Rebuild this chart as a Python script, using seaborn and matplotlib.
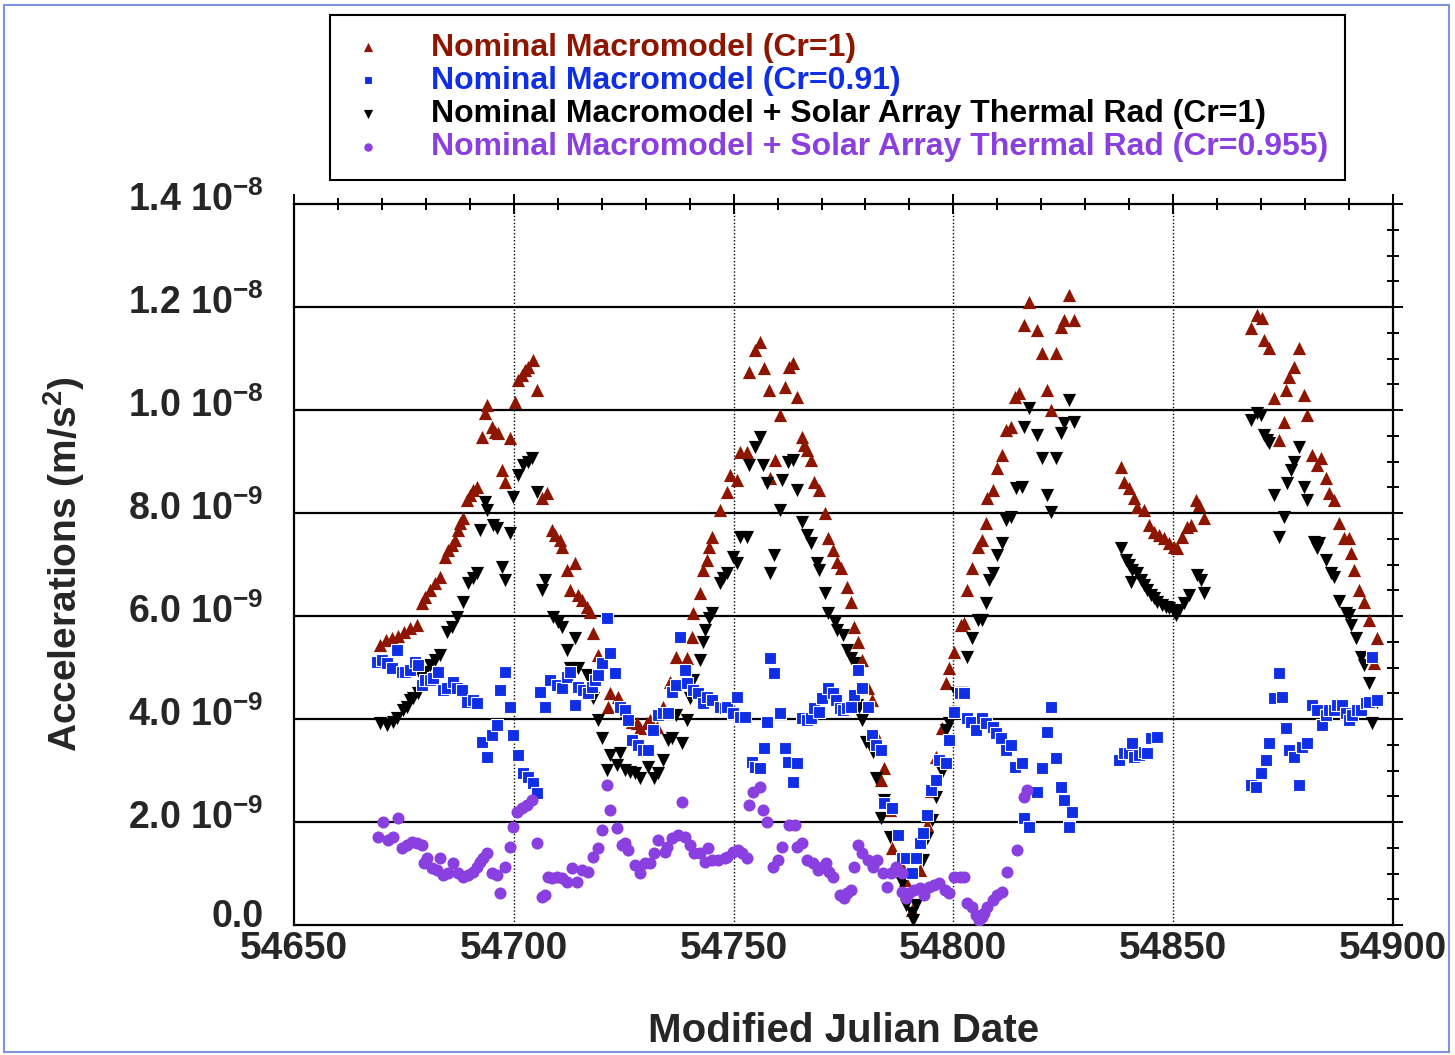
import numpy as np
import pandas as pd
import matplotlib
matplotlib.use("Agg")
import matplotlib.pyplot as plt
import matplotlib.transforms as mtransforms
from matplotlib.patches import Rectangle
from matplotlib.ticker import MultipleLocator
import seaborn as sns

# =============================================================================
# DATA  (acceleration values in units of 1e-9 m/s^2)
# =============================================================================
red_mjd = [
    54669.5, 54670.9, 54672.3, 54673.6, 54675.0, 54676.4, 54678.0, 54679.1, 54679.8, 54680.9,
    54682.0, 54683.2, 54684.3, 54685.0, 54685.9, 54686.6, 54687.3, 54687.7, 54688.4, 54689.3,
    54690.0, 54690.7, 54691.6, 54692.7, 54693.4, 54693.9, 54695.0, 54695.7, 54696.4, 54697.3,
    54698.0, 54699.1, 54700.2, 54700.9, 54701.8, 54702.5, 54703.2, 54704.3, 54705.2, 54706.4,
    54707.5, 54708.6, 54709.3, 54710.5, 54710.9, 54712.0, 54712.7, 54713.9, 54714.5, 54715.5,
    54716.6, 54717.3, 54718.0, 54719.1, 54721.4, 54721.8, 54723.6, 54725.5, 54726.8, 54728.0,
    54728.6, 54730.2, 54730.9, 54732.5, 54733.9, 54735.5, 54737.0, 54739.3, 54740.5, 54740.7,
    54742.3, 54743.0, 54743.9, 54744.5, 54745.2, 54746.8, 54748.4, 54749.1, 54750.7, 54751.4,
    54753.0, 54753.6, 54754.8, 54755.9, 54757.0, 54758.0, 54758.2, 54759.5, 54760.5, 54761.6,
    54762.7, 54763.4, 54764.5, 54765.5, 54766.1, 54766.8, 54767.7, 54768.4, 54769.5, 54770.7,
    54771.4, 54772.5, 54773.6, 54774.5, 54775.7, 54776.8, 54777.5, 54778.2, 54779.3, 54780.5,
    54781.4, 54782.5, 54783.6, 54784.3, 54785.5, 54786.1, 54788.2, 54789.1, 54790.5, 54792.3,
    54793.9, 54795.0, 54796.1, 54797.3, 54798.4, 54799.1, 54800.2, 54801.8, 54802.5, 54803.2,
    54804.3, 54805.5, 54806.6, 54807.5, 54807.7, 54808.9, 54810.0, 54811.1, 54812.0, 54813.2,
    54813.9, 54815.0, 54816.1, 54817.3, 54819.1, 54820.2, 54821.4, 54822.3, 54823.4, 54824.5,
    54825.2, 54826.4, 54827.5, 54838.2, 54838.9, 54840.0, 54841.1, 54841.8, 54843.4, 54844.5,
    54845.7, 54846.8, 54848.0, 54849.1, 54850.2, 54850.9, 54852.0, 54853.2, 54854.1, 54855.2,
    54855.9, 54857.0, 54867.7, 54869.1, 54870.2, 54870.7, 54871.8, 54873.0, 54874.1, 54875.2,
    54875.7, 54876.4, 54877.5, 54878.6, 54879.8, 54880.5, 54881.6, 54882.7, 54883.6, 54884.8,
    54885.5, 54886.6, 54887.7, 54888.9, 54890.0, 54890.5, 54891.1, 54892.3, 54893.4, 54894.5,
    54895.7, 54896.4,
]
red_acc = [
    5.44, 5.53, 5.57, 5.61, 5.69, 5.77, 5.83, 6.25, 6.37, 6.50,
    6.64, 6.76, 7.15, 7.28, 7.38, 7.48, 7.67, 7.81, 7.90, 8.25,
    8.35, 8.45, 8.50, 9.48, 9.94, 10.10, 9.67, 9.57, 9.55, 8.83,
    8.60, 9.46, 10.16, 10.58, 10.68, 10.78, 10.83, 10.97, 10.39, 8.29,
    8.39, 7.67, 7.57, 7.48, 7.34, 6.89, 6.50, 7.03, 6.41, 6.31,
    6.17, 6.08, 5.67, 5.24, 4.23, 4.50, 4.43, 4.15, 3.95, 3.92,
    3.83, 3.92, 3.98, 3.84, 4.23, 4.72, 5.20, 5.18, 5.59, 6.06,
    6.45, 6.89, 7.09, 7.34, 7.53, 8.06, 8.41, 8.74, 8.64, 9.18,
    9.18, 10.74, 11.17, 11.32, 10.82, 10.39, 8.68, 9.03, 9.90, 10.45,
    10.83, 10.91, 10.25, 9.48, 9.32, 9.22, 9.03, 8.60, 8.45, 8.00,
    7.51, 7.28, 7.05, 6.93, 6.56, 6.27, 5.79, 5.50, 5.15, 4.60,
    4.37, 3.69, 2.82, 3.05, 2.23, 1.50, 1.13, 0.87, 0.29, 1.07,
    1.95, 2.60, 3.26, 3.83, 4.70, 4.99, 5.30, 5.83, 5.86, 6.50,
    6.93, 7.34, 7.48, 7.81, 8.29, 8.45, 8.87, 9.13, 9.61, 9.67,
    10.25, 10.33, 11.65, 12.10, 11.55, 11.11, 10.39, 10.00, 11.11, 11.61,
    11.75, 12.23, 11.75, 8.89, 8.60, 8.49, 8.29, 8.12, 8.06, 7.77,
    7.63, 7.57, 7.51, 7.42, 7.34, 7.32, 7.53, 7.73, 7.77, 8.25,
    8.16, 7.90, 11.59, 11.84, 11.79, 11.36, 11.20, 10.23, 9.42, 9.77,
    10.39, 10.64, 10.83, 11.20, 10.29, 9.90, 9.13, 8.93, 9.07, 8.68,
    8.39, 8.25, 7.81, 7.51, 7.51, 7.22, 6.89, 6.50, 6.27, 5.92,
    5.09, 5.57,
]

blue_mjd = [
    54668.9, 54670.0, 54671.1, 54672.3, 54673.4, 54674.5, 54675.2, 54676.4, 54677.5, 54678.2,
    54679.1, 54679.8, 54680.9, 54681.6, 54682.7, 54683.9, 54684.8, 54686.1, 54687.0, 54688.2,
    54689.3, 54690.7, 54691.6, 54692.7, 54693.9, 54695.0, 54696.1, 54696.8, 54698.0, 54699.1,
    54699.8, 54700.9, 54702.0, 54703.2, 54704.3, 54705.2, 54705.9, 54707.0, 54708.2, 54709.8,
    54710.9, 54712.0, 54712.7, 54713.9, 54714.5, 54715.7, 54716.8, 54717.7, 54718.4, 54719.1,
    54720.0, 54721.1, 54721.8, 54723.0, 54724.1, 54725.2, 54725.9, 54727.0, 54728.2, 54729.3,
    54730.5, 54731.6, 54732.7, 54733.9, 54735.0, 54735.9, 54737.0, 54737.7, 54738.9, 54739.5,
    54740.7, 54741.8, 54743.0, 54743.9, 54745.2, 54746.8, 54748.0, 54748.6, 54749.8, 54750.7,
    54751.4, 54752.5, 54754.1, 54754.8, 54755.9, 54757.0, 54757.7, 54758.2, 54759.3, 54760.5,
    54761.6, 54762.3, 54763.4, 54764.5, 54765.5, 54766.6, 54767.7, 54768.4, 54769.5, 54770.2,
    54771.4, 54772.5, 54773.4, 54774.1, 54774.8, 54775.9, 54776.8, 54777.5, 54778.2, 54779.3,
    54780.5, 54781.4, 54782.5, 54783.6, 54784.3, 54786.1, 54787.3, 54788.4, 54789.3, 54790.5,
    54791.6, 54792.3, 54793.0, 54794.1, 54795.0, 54796.1, 54796.8, 54798.4, 54799.1, 54800.2,
    54801.4, 54802.5, 54803.2, 54804.1, 54805.2, 54806.4, 54807.5, 54808.9, 54809.8, 54810.9,
    54812.0, 54813.2, 54813.9, 54815.5, 54816.1, 54817.3, 54819.1, 54820.2, 54821.4, 54822.3,
    54823.4, 54824.5, 54825.2, 54826.4, 54827.0, 54837.7, 54838.9, 54840.0, 54840.7, 54841.1,
    54842.3, 54843.4, 54844.1, 54845.0, 54846.4, 54867.7, 54868.9, 54870.0, 54871.1, 54871.8,
    54873.0, 54874.1, 54874.8, 54875.7, 54876.4, 54877.5, 54878.6, 54879.3, 54880.5, 54881.6,
    54882.7, 54883.9, 54884.8, 54885.5, 54886.6, 54887.3, 54888.4, 54889.3, 54890.0, 54890.7,
    54891.8, 54892.7, 54893.9, 54894.5, 54895.2, 54896.4,
]
blue_acc = [
    5.11, 5.15, 5.09, 4.99, 5.34, 4.91, 4.91, 4.95, 5.11, 5.05,
    4.66, 4.76, 4.76, 4.80, 4.91, 4.56, 4.60, 4.72, 4.60, 4.56,
    4.33, 4.37, 4.31, 3.55, 3.26, 3.69, 3.88, 4.56, 4.91, 4.23,
    3.69, 3.30, 2.95, 2.87, 2.76, 2.56, 4.52, 4.23, 4.76, 4.66,
    4.60, 4.82, 4.91, 4.27, 4.62, 4.56, 4.50, 4.62, 4.76, 4.85,
    5.09, 5.96, 5.28, 4.89, 4.23, 4.17, 3.98, 3.59, 3.50, 3.40,
    3.40, 3.79, 4.08, 4.12, 4.12, 4.52, 4.66, 5.59, 4.95, 4.70,
    4.56, 4.50, 4.31, 4.43, 4.37, 4.23, 4.21, 4.23, 4.12, 4.43,
    4.04, 4.04, 3.17, 3.07, 3.05, 3.44, 3.94, 5.18, 4.89, 4.12,
    3.44, 3.17, 2.78, 3.15, 4.02, 3.98, 4.02, 4.21, 4.14, 4.41,
    4.60, 4.50, 4.37, 4.21, 4.17, 4.21, 4.23, 4.47, 4.95, 4.60,
    4.23, 3.69, 3.50, 3.40, 2.37, 2.27, 1.75, 1.30, 1.30, 1.01,
    1.30, 1.59, 1.79, 2.14, 2.62, 2.82, 3.20, 3.15, 3.59, 4.14,
    4.50, 4.50, 4.02, 3.94, 3.79, 4.02, 3.92, 3.84, 3.73, 3.63,
    3.40, 3.50, 3.07, 3.15, 2.08, 1.90, 2.58, 3.05, 3.75, 4.23,
    3.24, 2.68, 2.43, 1.90, 2.19, 3.20, 3.34, 3.34, 3.53, 3.26,
    3.30, 3.36, 3.34, 3.63, 3.65, 2.72, 2.68, 2.95, 3.20, 3.53,
    4.41, 4.89, 4.43, 3.83, 3.40, 3.26, 2.72, 3.46, 3.53, 4.27,
    4.17, 3.88, 4.08, 4.17, 4.17, 4.27, 4.27, 4.12, 3.98, 4.08,
    4.17, 4.17, 4.31, 4.33, 5.20, 4.37,
]

black_mjd = [
    54669.5, 54671.1, 54672.5, 54673.4, 54674.8, 54675.7, 54676.4, 54677.0, 54678.2, 54679.1,
    54679.8, 54680.9, 54682.0, 54683.2, 54684.8, 54685.9, 54687.0, 54688.4, 54689.5, 54690.7,
    54691.6, 54692.3, 54693.4, 54693.9, 54695.2, 54696.1, 54697.3, 54698.0, 54699.1, 54699.8,
    54700.9, 54702.0, 54703.2, 54704.1, 54705.2, 54706.4, 54707.0, 54708.9, 54710.0, 54710.9,
    54712.0, 54712.7, 54713.9, 54714.5, 54716.6, 54717.3, 54718.0, 54719.1, 54720.0, 54721.1,
    54721.8, 54723.4, 54724.1, 54725.2, 54726.4, 54727.5, 54728.6, 54730.5, 54732.0, 54732.7,
    54733.9, 54735.0, 54735.9, 54737.0, 54738.2, 54739.3, 54740.0, 54740.7, 54742.3, 54743.0,
    54743.4, 54744.5, 54745.2, 54746.8, 54747.5, 54748.4, 54749.8, 54750.7, 54751.4, 54753.0,
    54753.6, 54754.8, 54755.9, 54756.6, 54757.7, 54758.2, 54759.3, 54760.5, 54761.1, 54762.3,
    54763.4, 54764.5, 54765.5, 54766.6, 54767.7, 54768.9, 54769.5, 54770.7, 54771.4, 54773.0,
    54773.6, 54774.8, 54775.7, 54776.8, 54777.5, 54778.0, 54778.6, 54779.3, 54780.2, 54781.4,
    54781.6, 54782.5, 54783.6, 54784.3, 54785.5, 54788.2, 54789.3, 54790.5, 54790.7, 54791.6,
    54793.0, 54794.1, 54795.2, 54796.1, 54797.3, 54798.4, 54799.1, 54800.2, 54800.7, 54801.8,
    54802.5, 54803.2, 54804.3, 54805.5, 54806.4, 54807.5, 54808.2, 54808.9, 54810.0, 54811.1,
    54812.0, 54813.2, 54814.3, 54815.5, 54816.1, 54817.3, 54819.1, 54820.2, 54821.4, 54822.3,
    54823.4, 54824.5, 54825.2, 54826.4, 54827.5, 54838.2, 54839.3, 54840.0, 54840.5, 54840.7,
    54841.8, 54842.7, 54843.4, 54844.1, 54845.0, 54845.7, 54846.4, 54847.5, 54848.4, 54849.1,
    54850.2, 54850.7, 54851.4, 54852.5, 54853.6, 54855.5, 54856.4, 54857.0, 54867.7, 54869.1,
    54870.0, 54870.7, 54871.4, 54871.8, 54873.0, 54874.1, 54875.2, 54875.9, 54876.8, 54877.5,
    54878.6, 54879.8, 54880.5, 54882.0, 54882.7, 54883.2, 54884.8, 54885.9, 54886.6, 54887.7,
    54889.3, 54890.0, 54890.5, 54891.6, 54892.7, 54893.4, 54894.5, 54895.2, 54896.4,
]
black_acc = [
    3.92, 3.88, 3.94, 4.02, 4.17, 4.23, 4.37, 4.41, 4.50, 4.80,
    4.91, 5.05, 5.15, 5.24, 5.69, 5.79, 5.98, 6.27, 6.64, 6.74,
    6.83, 7.67, 8.21, 8.06, 7.77, 7.71, 6.95, 6.70, 7.61, 8.31,
    8.74, 8.93, 8.99, 9.07, 8.41, 6.50, 6.70, 5.98, 5.88, 5.79,
    5.34, 4.99, 5.57, 4.99, 4.85, 4.76, 4.41, 3.98, 3.63, 3.01,
    3.30, 3.11, 3.34, 3.01, 2.97, 2.95, 2.85, 3.07, 2.85, 2.95,
    3.20, 3.59, 3.63, 4.08, 3.53, 3.98, 4.41, 4.76, 5.15, 5.50,
    5.73, 5.96, 6.06, 6.64, 6.74, 6.83, 7.15, 7.03, 7.53, 7.53,
    8.93, 9.28, 9.48, 8.93, 8.58, 6.83, 7.18, 8.06, 8.64, 8.99,
    9.03, 8.45, 7.83, 7.57, 7.42, 7.03, 6.89, 6.45, 6.06, 5.88,
    5.73, 5.63, 5.34, 5.18, 5.09, 4.27, 4.23, 3.98, 3.55, 3.46,
    3.36, 2.85, 2.08, 2.43, 1.71, 0.82, 0.39, 0.23, 0.10, 0.39,
    1.26, 1.69, 2.04, 2.49, 2.97, 3.79, 3.92, 4.14, 4.50, 4.50,
    4.50, 5.20, 5.57, 5.92, 5.92, 6.25, 6.70, 6.83, 7.18, 7.42,
    7.86, 7.92, 8.49, 8.50, 9.67, 10.04, 9.51, 9.07, 8.35, 8.02,
    9.07, 9.55, 9.75, 10.19, 9.77, 7.32, 7.09, 6.99, 6.66, 6.89,
    6.83, 6.70, 6.60, 6.50, 6.41, 6.35, 6.27, 6.21, 6.17, 6.16,
    6.08, 6.02, 6.12, 6.25, 6.41, 6.80, 6.70, 6.45, 9.81, 9.94,
    9.90, 9.51, 9.42, 9.36, 8.35, 7.53, 7.92, 8.58, 8.83, 8.99,
    9.28, 8.50, 8.25, 7.44, 7.32, 7.42, 7.09, 6.83, 6.76, 6.29,
    6.06, 6.02, 5.83, 5.57, 5.20, 5.05, 4.70, 3.92, 4.33,
]

purple_mjd = [
    54669.1, 54670.2, 54671.4, 54672.5, 54673.6, 54674.5, 54675.7, 54676.8, 54678.0, 54679.1,
    54679.5, 54680.2, 54681.4, 54682.5, 54683.2, 54683.9, 54685.0, 54686.1, 54687.3, 54688.4,
    54689.5, 54690.7, 54691.6, 54692.3, 54693.0, 54693.9, 54695.0, 54696.1, 54696.8, 54698.0,
    54699.1, 54699.8, 54700.7, 54701.8, 54703.0, 54704.1, 54705.2, 54706.4, 54707.0, 54707.7,
    54708.6, 54709.8, 54710.9, 54712.0, 54713.2, 54714.3, 54715.5, 54716.8, 54718.0, 54719.1,
    54720.0, 54721.1, 54721.8, 54723.4, 54724.5, 54725.2, 54725.9, 54727.5, 54728.6, 54729.8,
    54730.9, 54732.0, 54732.7, 54734.3, 54734.8, 54736.1, 54737.3, 54738.2, 54738.9, 54740.0,
    54741.1, 54742.3, 54743.4, 54744.1, 54745.2, 54746.4, 54748.0, 54748.6, 54749.8, 54750.9,
    54752.0, 54753.0, 54753.6, 54754.3, 54755.9, 54756.6, 54757.7, 54758.9, 54760.0, 54761.1,
    54762.7, 54763.9, 54764.5, 54765.5, 54766.8, 54768.0, 54769.1, 54770.2, 54771.1, 54771.8,
    54772.5, 54774.1, 54775.2, 54775.9, 54776.8, 54777.5, 54778.2, 54779.3, 54780.5, 54781.6,
    54782.7, 54783.9, 54784.8, 54785.9, 54787.0, 54788.2, 54788.4, 54789.3, 54790.0, 54791.1,
    54792.3, 54793.4, 54794.5, 54795.7, 54796.8, 54798.0, 54799.1, 54800.2, 54801.4, 54802.5,
    54803.2, 54804.3, 54805.2, 54805.9, 54806.4, 54807.0, 54807.7, 54808.9, 54810.0, 54811.1,
    54812.3, 54814.5, 54816.1, 54816.8,
]
purple_acc = [
    1.71, 2.00, 1.65, 1.71, 2.08, 1.50, 1.55, 1.61, 1.59, 1.55,
    1.20, 1.30, 1.11, 1.07, 1.30, 0.97, 1.01, 1.20, 1.01, 0.93,
    0.97, 1.03, 1.13, 1.22, 1.30, 1.40, 1.01, 0.97, 0.62, 1.13,
    1.51, 1.90, 2.19, 2.27, 2.33, 2.43, 1.59, 0.54, 0.58, 0.93,
    0.91, 0.93, 0.91, 0.83, 1.11, 0.83, 1.07, 1.03, 1.32, 1.50,
    1.84, 2.72, 2.23, 1.88, 1.55, 1.59, 1.46, 1.17, 1.01, 1.20,
    1.20, 1.40, 1.65, 1.42, 1.51, 1.69, 1.75, 2.39, 1.71, 1.55,
    1.40, 1.40, 1.22, 1.50, 1.26, 1.26, 1.30, 1.32, 1.42, 1.46,
    1.40, 1.30, 2.33, 2.58, 2.68, 2.23, 2.00, 1.13, 1.26, 1.51,
    1.94, 1.94, 1.51, 1.59, 1.26, 1.20, 1.07, 1.13, 1.20, 1.03,
    0.93, 0.58, 0.52, 0.62, 0.68, 1.13, 1.55, 1.40, 1.26, 1.13,
    1.26, 1.01, 0.74, 1.01, 1.13, 1.01, 0.64, 0.52, 0.62, 0.68,
    0.72, 0.58, 0.74, 0.78, 0.82, 0.68, 0.62, 0.93, 0.93, 0.93,
    0.43, 0.35, 0.19, 0.10, 0.16, 0.23, 0.35, 0.49, 0.58, 0.64,
    1.03, 1.46, 2.49, 2.62,
]

labels = [
    "Nominal Macromodel (Cr=1)",
    "Nominal Macromodel (Cr=0.91)",
    "Nominal Macromodel + Solar Array Thermal Rad (Cr=1)",
    "Nominal Macromodel + Solar Array Thermal Rad (Cr=0.955)",
]
y_ticks = [0, 2, 4, 6, 8, 10, 12, 14]
y_tick_labels = ["0.0", "2.0 10$^{-9}$", "4.0 10$^{-9}$", "6.0 10$^{-9}$",
                 "8.0 10$^{-9}$", "1.0 10$^{-8}$", "1.2 10$^{-8}$", "1.4 10$^{-8}$"]
x_ticks = [54650, 54700, 54750, 54800, 54850, 54900]

# =============================================================================
# STYLE
# =============================================================================
sns.set_theme(style="white")
plt.rcParams["font.family"] = ["Liberation Sans", "DejaVu Sans"]
plt.rcParams["font.weight"] = "bold"
plt.rcParams["mathtext.fontset"] = "custom"
plt.rcParams["mathtext.rm"] = "Liberation Sans:bold"
plt.rcParams["mathtext.it"] = "Liberation Sans:bold"
plt.rcParams["mathtext.bf"] = "Liberation Sans:bold"

RED = "#8E1600"
BLUE = "#0F2FE6"
BLACK = "#000000"
PURPLE = "#8A3FE0"

fig = plt.figure(figsize=(14.55, 10.55), dpi=100)
ax = fig.add_axes([294 / 1455, 130 / 1055, 1099 / 1455, 721 / 1055])

series = [
    (red_mjd, red_acc, "^", RED, 90, labels[0]),
    (black_mjd, black_acc, "v", BLACK, 90, labels[2]),
    (blue_mjd, blue_acc, "s", BLUE, 80, labels[1]),
    (purple_mjd, purple_acc, "o", PURPLE, 75, labels[3]),
]
for xs, ys, mk, col, size, lab in series:
    df = pd.DataFrame({"mjd": xs, "acc": ys})
    edge = "white" if mk == "s" else col
    sns.scatterplot(data=df, x="mjd", y="acc", marker=mk, color=col, s=size,
                    edgecolor=edge, linewidth=0.8 if mk == "s" else 0,
                    ax=ax, zorder=3, label=lab)
if ax.get_legend() is not None:
    ax.get_legend().remove()

ax.set_xlim(54650, 54900)
ax.set_ylim(0, 14)
ax.set_xticks(x_ticks)
ax.set_xticklabels([str(t) for t in x_ticks])
ax.set_yticks(y_ticks)
ax.set_yticklabels(y_tick_labels)
ax.xaxis.set_minor_locator(MultipleLocator(10))
ax.yaxis.set_minor_locator(MultipleLocator(0.5))

# grid: solid horizontals, dotted verticals
for yv in y_ticks[1:-1]:
    ax.axhline(yv, color="black", lw=1.6, zorder=1)
for xv in x_ticks[1:-1]:
    ax.axvline(xv, color="black", lw=1.0, ls=(0, (1, 1.5)), zorder=1)

for sp in ax.spines.values():
    sp.set_color("black")
    sp.set_linewidth(1.6)

ax.tick_params(which="both", direction="inout", top=True, right=True,
               color="black", width=1.4)
ax.tick_params(which="major", length=14)
ax.tick_params(which="minor", length=9)
ax.tick_params(axis="x", which="major", labelsize=28, pad=-3)
ax.tick_params(axis="y", which="major", labelsize=27, pad=15)
# y labels sit a little above their tick in the original ("0.0" a bit more)
for i, lbl in enumerate(ax.get_yticklabels()):
    up = 12 if i == 0 else 8
    shift = mtransforms.ScaledTranslation(0, up / 100, fig.dpi_scale_trans)
    lbl.set_transform(lbl.get_transform() + shift)
for lbl in ax.get_xticklabels() + ax.get_yticklabels():
    lbl.set_fontweight("bold")

ax.set_xlabel("Modified Julian Date", fontsize=29, fontweight="bold")
ax.set_ylabel("Accelerations (m/s$^{2}$)", fontsize=28, fontweight="bold")
ax.xaxis.set_label_coords(0.5, -0.121)
ax.yaxis.set_label_coords(-0.188, 0.5)

# legend (fixed box above the axes)
h, l = ax.get_legend_handles_labels()
order = [labels.index(x) for x in l]
pairs = sorted(zip(order, h, l))
leg = fig.legend([p[1] for p in pairs], [p[2] for p in pairs],
                 loc="upper left", bbox_to_anchor=(330 / 1455, 1 - 15 / 1055),
                 frameon=True, fancybox=False, framealpha=1, edgecolor="black",
                 fontsize=23, borderpad=0.55, handlelength=1.3, handletextpad=1.3,
                 labelspacing=0.1, markerscale=0.7, borderaxespad=0)
leg.get_frame().set_linewidth(1.5)
for txt, col in zip(leg.get_texts(), [RED, BLUE, BLACK, PURPLE]):
    txt.set_color(col)
    txt.set_fontweight("bold")

# thin outer frame of the picture
fig.patches.append(Rectangle((4 / 1455, 3 / 1055), 1 - 10 / 1455, 1 - 8 / 1055,
                             transform=fig.transFigure, fill=False,
                             edgecolor="#7f93e0", lw=1.5))

fig.savefig("out.png", dpi=100)
